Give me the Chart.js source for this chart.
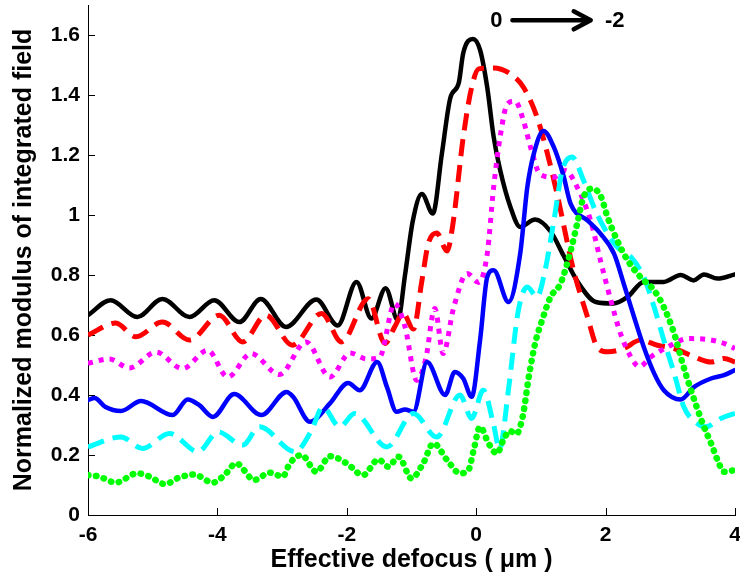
<!DOCTYPE html>
<html>
<head>
<meta charset="utf-8">
<script src="https://cdn.jsdelivr.net/npm/chart.js@4.4.1/dist/chart.umd.min.js"></script>
<style>
  html, body { margin: 0; padding: 0; background: #fff; }
  #wrap { width: 740px; height: 578px; }
</style>
</head>
<body>
<div id="wrap"><canvas id="chart" width="740" height="578"></canvas></div>
<script>
// values, [defocus (um), normalized modulus]
var black = [[-6,0.666],[-5.65,0.716],[-5.24,0.66],[-4.85,0.72],[-4.43,0.66],[-4.05,0.716],[-3.66,0.643],[-3.33,0.72],[-2.94,0.627],[-2.47,0.718],[-2.14,0.632],[-1.85,0.777],[-1.62,0.655],[-1.40,0.756],[-1.21,0.649],[-1.10,0.80],[-0.98,0.98],[-0.84,1.07],[-0.67,1.005],[-0.53,1.205],[-0.40,1.39],[-0.27,1.44],[-0.20,1.54],[-0.05,1.587],[0.06,1.55],[0.17,1.426],[0.27,1.26],[0.37,1.15],[0.53,1.026],[0.68,0.96],[0.91,0.985],[1.15,0.945],[1.35,0.865],[1.56,0.78],[1.85,0.71],[2.12,0.705],[2.34,0.727],[2.59,0.777],[2.90,0.777],[3.16,0.80],[3.36,0.782],[3.52,0.802],[3.73,0.788],[4.0,0.802]];
var red = [[-6,0.60],[-5.57,0.64],[-5.26,0.594],[-4.85,0.643],[-4.43,0.583],[-3.97,0.666],[-3.61,0.577],[-3.25,0.666],[-2.84,0.566],[-2.39,0.672],[-2.08,0.577],[-1.67,0.721],[-1.41,0.572],[-1.26,0.627],[-1.13,0.672],[-0.97,0.62],[-0.84,0.78],[-0.74,0.905],[-0.61,0.94],[-0.45,0.88],[-0.36,0.97],[-0.20,1.26],[-0.07,1.426],[0.04,1.487],[0.27,1.49],[0.53,1.47],[0.73,1.426],[0.94,1.326],[1.10,1.205],[1.25,1.07],[1.50,0.82],[1.72,0.66],[1.87,0.56],[2.03,0.544],[2.28,0.555],[2.54,0.583],[2.80,0.566],[3.06,0.555],[3.37,0.527],[3.63,0.51],[3.83,0.522],[4.0,0.51]];
var magenta = [[-6,0.506],[-5.67,0.52],[-5.36,0.49],[-4.95,0.543],[-4.54,0.488],[-4.15,0.549],[-3.84,0.46],[-3.48,0.538],[-3.04,0.468],[-2.63,0.577],[-2.26,0.46],[-1.95,0.54],[-1.69,0.52],[-1.49,0.527],[-1.26,0.705],[-1.10,0.627],[-0.92,0.449],[-0.78,0.52],[-0.64,0.688],[-0.51,0.538],[-0.35,0.69],[-0.14,0.805],[0.04,0.775],[0.17,0.87],[0.27,1.093],[0.37,1.26],[0.48,1.37],[0.60,1.38],[0.73,1.315],[0.84,1.226],[0.99,1.135],[1.20,1.126],[1.38,1.148],[1.56,1.093],[1.77,0.98],[1.92,0.849],[2.08,0.716],[2.23,0.605],[2.39,0.527],[2.52,0.494],[2.70,0.527],[2.96,0.56],[3.27,0.588],[3.58,0.585],[3.83,0.572],[4.0,0.555]];
var blue = [[-6,0.383],[-5.9,0.39],[-5.73,0.36],[-5.49,0.347],[-5.18,0.38],[-4.69,0.333],[-4.46,0.385],[-4.28,0.366],[-4.07,0.327],[-3.74,0.403],[-3.32,0.333],[-2.93,0.41],[-2.83,0.394],[-2.57,0.311],[-2.26,0.372],[-1.98,0.44],[-1.80,0.416],[-1.53,0.51],[-1.38,0.427],[-1.23,0.344],[-1.10,0.352],[-0.97,0.344],[-0.76,0.51],[-0.48,0.40],[-0.33,0.477],[-0.20,0.455],[-0.07,0.394],[0.06,0.583],[0.17,0.793],[0.27,0.816],[0.50,0.71],[0.68,0.871],[0.79,1.093],[0.89,1.204],[1.04,1.28],[1.20,1.226],[1.35,1.13],[1.46,1.037],[1.72,0.982],[1.92,0.938],[2.13,0.871],[2.28,0.771],[2.44,0.66],[2.59,0.56],[2.75,0.472],[2.90,0.416],[3.16,0.385],[3.37,0.427],[3.63,0.455],[3.83,0.466],[4.0,0.483]];
var cyan = [[-6,0.227],[-5.49,0.26],[-5.16,0.222],[-4.74,0.272],[-4.30,0.211],[-3.99,0.277],[-3.61,0.233],[-3.35,0.294],[-2.80,0.211],[-2.55,0.28],[-2.37,0.36],[-2.11,0.294],[-1.88,0.338],[-1.38,0.227],[-0.97,0.338],[-0.61,0.26],[-0.25,0.40],[-0.07,0.322],[0.11,0.416],[0.27,0.30],[0.36,0.22],[0.50,0.42],[0.65,0.68],[0.79,0.76],[0.94,0.727],[1.05,0.80],[1.20,0.98],[1.33,1.148],[1.48,1.193],[1.66,1.115],[1.82,1.026],[1.97,0.96],[2.18,0.893],[2.39,0.86],[2.59,0.793],[2.75,0.693],[2.90,0.583],[3.06,0.472],[3.21,0.36],[3.42,0.305],[3.55,0.294],[3.78,0.322],[4.0,0.339]];
var green = [[-6,0.133],[-5.83,0.128],[-5.57,0.108],[-5.24,0.139],[-5.05,0.128],[-4.81,0.103],[-4.59,0.125],[-4.36,0.135],[-4.07,0.108],[-3.89,0.133],[-3.71,0.172],[-3.43,0.117],[-3.19,0.141],[-2.99,0.128],[-2.88,0.172],[-2.70,0.20],[-2.47,0.144],[-2.26,0.196],[-2.0,0.172],[-1.75,0.133],[-1.51,0.185],[-1.36,0.161],[-1.20,0.194],[-1.0,0.122],[-0.82,0.172],[-0.66,0.239],[-0.45,0.183],[-0.25,0.139],[-0.12,0.15],[-0.04,0.216],[0.06,0.294],[0.19,0.239],[0.32,0.205],[0.42,0.25],[0.52,0.28],[0.62,0.27],[0.72,0.33],[0.82,0.47],[0.92,0.58],[1.02,0.65],[1.15,0.727],[1.30,0.77],[1.46,0.88],[1.56,0.971],[1.66,1.06],[1.79,1.088],[1.92,1.065],[2.03,0.993],[2.18,0.915],[2.34,0.849],[2.54,0.793],[2.75,0.749],[2.90,0.693],[3.06,0.605],[3.19,0.505],[3.32,0.416],[3.52,0.294],[3.63,0.239],[3.73,0.183],[3.83,0.144],[4.0,0.15]];

var xTicks = [-6, -4, -2, 0, 2, 4];
var yTicks = [0, 0.2, 0.4, 0.6, 0.8, 1, 1.2, 1.4, 1.6];

var FONT = '"Liberation Sans", Arial, Helvetica, sans-serif';

function series(label, pts, color, width, dash, cap, order) {
    return {
        label: label,
        data: pts.map(function (p) { return {x: p[0], y: p[1]}; }),
        borderColor: color,
        borderWidth: width,
        borderDash: dash || [],
        borderCapStyle: cap || 'butt',
        borderJoinStyle: 'round',
        cubicInterpolationMode: 'monotone',
        pointRadius: 0,
        fill: false,
        order: order
    };
}

// inward tick marks and the "0 -> -2" note
var extras = {
    id: 'extras',
    beforeDatasetsDraw: function (chart) {
        var ctx = chart.ctx, a = chart.chartArea, sx = chart.scales.x, sy = chart.scales.y;
        ctx.save();
        ctx.strokeStyle = '#000';
        ctx.lineWidth = 1;
        ctx.beginPath();
        xTicks.forEach(function (v) {
            var px = Math.round(sx.getPixelForValue(v)) + 0.5;
            ctx.moveTo(px, a.bottom); ctx.lineTo(px, a.bottom - 7);
        });
        yTicks.forEach(function (v) {
            var py = Math.round(sy.getPixelForValue(v)) + 0.5;
            ctx.moveTo(a.left, py); ctx.lineTo(a.left + 7, py);
        });
        ctx.stroke();
        ctx.restore();
    },
    afterDatasetsDraw: function (chart) {
        var ctx = chart.ctx, sx = chart.scales.x, sy = chart.scales.y;
        var yy = sy.getPixelForValue(1.649);
        ctx.save();
        ctx.fillStyle = '#000';
        ctx.font = 'bold 22px ' + FONT;
        ctx.textAlign = 'center';
        ctx.textBaseline = 'middle';
        ctx.fillText('0', sx.getPixelForValue(0.31), yy + 1);
        ctx.fillText('-2', sx.getPixelForValue(2.14), yy + 1);
        var x0 = sx.getPixelForValue(0.56), x1 = sx.getPixelForValue(1.77);
        ctx.strokeStyle = '#000';
        ctx.lineWidth = 4.5;
        ctx.lineCap = 'round';
        ctx.lineJoin = 'round';
        ctx.beginPath();
        ctx.moveTo(x0, yy); ctx.lineTo(x1 - 2, yy);
        ctx.moveTo(x1 - 17, yy - 9); ctx.lineTo(x1, yy); ctx.lineTo(x1 - 17, yy + 9);
        ctx.stroke();
        ctx.restore();
    }
};

new Chart(document.getElementById('chart'), {
    type: 'line',
    data: {
        datasets: [
            series('0', black, '#000000', 4.5, null, 'round', 5),
            series('-0.4', red, '#ff0000', 5, [17, 9], 'butt', 4),
            series('-0.8', magenta, '#ff00ff', 5, [5, 6], 'butt', 3),
            series('-1.2', blue, '#0000ff', 4.5, null, 'round', 2),
            series('-1.6', cyan, '#00ffff', 5, [17, 9], 'butt', 1),
            series('-2', green, '#00ff00', 6.5, [0.5, 7.5], 'round', 0)
        ]
    },
    options: {
        responsive: false,
        devicePixelRatio: 1,
        animation: false,
        layout: { padding: { left: 0, right: 5, top: 5, bottom: 0 } },
        plugins: { legend: { display: false }, tooltip: { enabled: false } },
        scales: {
            x: {
                type: 'linear',
                min: -6, max: 4,
                grid: { display: false, drawTicks: false },
                border: { display: true, color: '#000', width: 1 },
                ticks: {
                    color: '#000', padding: 8,
                    font: { family: FONT, size: 21, weight: 'bold' },
                    callback: function (v) { return String(v); }
                },
                afterBuildTicks: function (s) { s.ticks = xTicks.map(function (v) { return {value: v}; }); },
                afterFit: function (s) { s.height = 63; s.paddingLeft = 0; s.paddingRight = 0; },
                title: {
                    display: true, text: 'Effective defocus ( \u03bcm )', color: '#000',
                    font: { family: FONT, size: 25, weight: 'bold' },
                    padding: { top: 0, bottom: 3 }
                }
            },
            y: {
                type: 'linear',
                min: 0, max: 1.7,
                grid: { display: false, drawTicks: false },
                border: { display: true, color: '#000', width: 1 },
                ticks: {
                    color: '#000', padding: 8,
                    font: { family: FONT, size: 21, weight: 'bold' },
                    callback: function (v) { return String(Number(v.toFixed(1))); }
                },
                afterBuildTicks: function (s) { s.ticks = yTicks.map(function (v) { return {value: v}; }); },
                afterFit: function (s) { s.width = 88; s.paddingTop = 0; s.paddingBottom = 0; },
                title: {
                    display: true, text: 'Normalized modulus of integrated field', color: '#000',
                    font: { family: FONT, size: 25, weight: 'bold' },
                    padding: { top: 9, bottom: 0 }
                }
            }
        }
    },
    plugins: [extras]
});
</script>
</body>
</html>
